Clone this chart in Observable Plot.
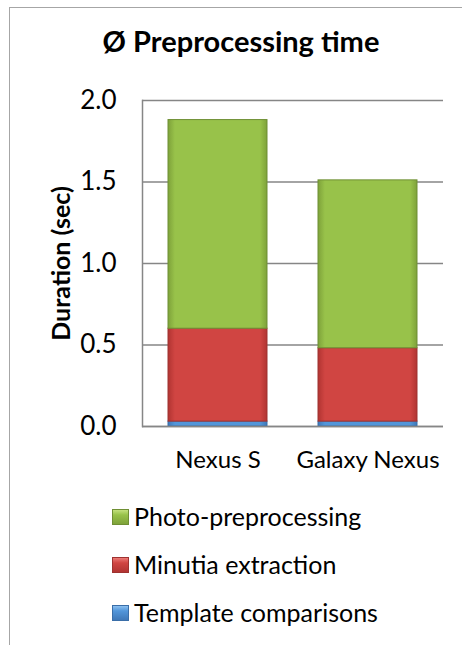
<!DOCTYPE html>
<html>
<head>
<meta charset="utf-8">
<script src="https://cdn.jsdelivr.net/npm/d3@7"></script>
<script src="https://cdn.jsdelivr.net/npm/@observablehq/plot@0.6"></script>
<style>
  html, body { margin: 0; padding: 0; background: #fff; }
  body { width: 462px; height: 645px; position: relative; overflow: hidden; font-family: Lato, "Open Sans", sans-serif; }
  #frame { position: absolute; left: 9px; top: 7px; width: 500px; height: 700px; border: 1.5px solid #a6a6a6; box-sizing: border-box; }
  #title { position: absolute; left: 0; width: 482px; top: 23px; text-align: center; font-weight: bold; font-size: 29px; color: #000; }
  #chart { position: absolute; left: 0; top: 80px; }
  #legend { position: absolute; left: 112px; top: 500px; }
  .item { position: absolute; left: 0; height: 32px; white-space: nowrap; font-size: 25px; color: #000; }
  .sw { position: absolute; left: 0; top: 9px; width: 17px; height: 16px; box-sizing: border-box; }
  .lbl { position: absolute; left: 22px; top: 0; line-height: 32px; }
</style>
</head>
<body>
<div id="frame"></div>
<div id="title">Ø Preprocessing time</div>
<div id="chart"></div>
<div id="legend"></div>
<script>
const devices = ["Nexus S", "Galaxy Nexus"];
const series = ["Template comparisons", "Minutia extraction", "Photo-preprocessing"];
const templateComparisons = [0.03, 0.03];
const minutiaExtraction = [0.57, 0.45];
const photoPreprocessing = [1.28, 1.03];
const yTicks = [0, 0.5, 1.0, 1.5, 2.0];
const colors = ["#5296da", "#d04542", "#98c24a"];
const edges = ["#3f78b8", "#b13432", "#7ea23a"];
const lights = ["#8cc0f0", "#ec7a76", "#c3e07e"];
const strokes = ["#3a6ea8", "#9e3230", "#6f8f34"];
const gradIds = ["gTemplate", "gMinutia", "gPhoto"];

const values = [templateComparisons, minutiaExtraction, photoPreprocessing];
const data = [];
series.forEach((s, i) => devices.forEach((d, j) => data.push({device: d, series: s, value: values[i][j]})));

const chart = Plot.plot({
  width: 462,
  height: 410,
  marginLeft: 142,
  marginRight: 19,
  marginTop: 20,
  marginBottom: 64,
  style: {fontFamily: "Lato, 'Open Sans', sans-serif", fontSize: "24px", color: "#000", background: "transparent"},
  x: {domain: devices, paddingInner: 0.34, paddingOuter: 0.17, label: null},
  y: {domain: [0, 2], label: null},
  color: {domain: series, range: gradIds.map(id => `url(#${id})`)},
  marks: [
    Plot.gridY(yTicks, {stroke: "#868686", strokeOpacity: 1, strokeWidth: 1.5}),
    Plot.barY(data, Plot.stackY({x: "device", y: "value", fill: "series", order: series, stroke: d => strokes[series.indexOf(d.series)], strokeWidth: 1})),
    Plot.frame({anchor: "left", stroke: "#868686", strokeWidth: 1.5}),
    Plot.ruleY([0], {stroke: "#868686", strokeWidth: 1.5}),
    Plot.axisX({tickSize: 0, tickPadding: 24, label: null, fontSize: 24}),
    Plot.axisY({ticks: yTicks, tickFormat: d3.format(".1f"), tickSize: 0, tickPadding: 26, label: null, fontSize: 26}),
    Plot.text(["Duration (sec)"], {frameAnchor: "left", dx: -81, rotate: -90, textAnchor: "middle", fontWeight: "bold", fontSize: 25})
  ]
});

const defs = d3.select(chart).insert("defs", ":first-child");
gradIds.forEach((id, i) => {
  const g = defs.append("linearGradient").attr("id", id).attr("x1", "0%").attr("x2", "100%").attr("y1", "0%").attr("y2", "0%");
  [[0, edges[i]], [0.07, colors[i]], [0.93, colors[i]], [1, edges[i]]].forEach(([o, c]) =>
    g.append("stop").attr("offset", o).attr("stop-color", c));
});
document.getElementById("chart").appendChild(chart);

const legend = document.getElementById("legend");
const legendOrder = [2, 1, 0];
legendOrder.forEach((i, k) => {
  const it = document.createElement("div");
  it.className = "item";
  it.style.top = (k * 48) + "px";
  const sw = document.createElement("div");
  sw.className = "sw";
  sw.style.background = `linear-gradient(to bottom, ${lights[i]} 0%, ${colors[i]} 35%, ${edges[i]} 100%)`;
  sw.style.border = "1px solid " + strokes[i];
  const lb = document.createElement("div");
  lb.className = "lbl";
  lb.textContent = series[i];
  it.appendChild(sw); it.appendChild(lb);
  legend.appendChild(it);
});
</script>
</body>
</html>
